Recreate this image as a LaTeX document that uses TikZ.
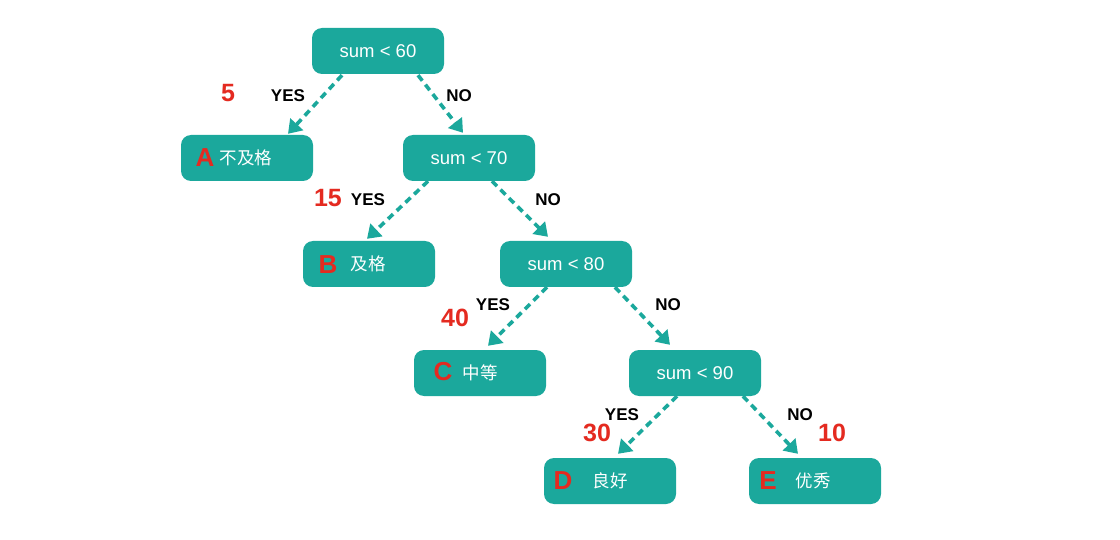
\documentclass[tikz,border=0pt]{standalone}
\usepackage{fontspec}
\setmainfont{Liberation Sans}
\newfontfamily\cjk{Noto Sans CJK SC}
\usetikzlibrary{arrows.meta,calc}
\definecolor{teal1}{HTML}{1BA89C}
\definecolor{red1}{HTML}{E42A20}
\tikzset{
  box/.style={fill=teal1, rounded corners=10pt, minimum width=132pt, minimum height=46pt, inner sep=0pt, text=white, font=\fontsize{18.5}{20}\selectfont},
  leafbox/.style={box},
  edge/.style={draw=teal1, line width=3.6pt, dash pattern=on 7pt off 5pt, -{Triangle[width=17pt,length=13pt,fill=teal1]}},
  yn/.style={font=\bfseries\fontsize{17}{18}\selectfont, text=black, inner sep=0pt},
  cnt/.style={font=\bfseries\fontsize{25}{26}\selectfont, text=red1, inner sep=0pt},
  letter/.style={font=\bfseries\fontsize{26}{27}\selectfont, text=red1, inner sep=0pt},
  cjktext/.style={text=white, font=\cjk\fontsize{17.5}{18}\selectfont, inner sep=0pt}
}
\begin{document}
\begin{tikzpicture}[x=1pt,y=-1pt]
\useasboundingbox[fill=white] (0,0) rectangle (1120,540);
% decision nodes
\node[box] (n60) at (378,51) {sum < 60};
\node[box] (n70) at (469,158) {sum < 70};
\node[box] (n80) at (566,264) {sum < 80};
\node[box] (n90) at (695,373) {sum < 90};
% leaves
\node[leafbox] (A) at (247,158) {};
\node[leafbox] (B) at (369,264) {};
\node[leafbox] (C) at (480,373) {};
\node[leafbox] (D) at (610,481) {};
\node[leafbox] (E) at (815,481) {};
% leaf texts
\node[cjktext] (At) at (246,158) {不及格};
\node[cjktext] (Bt) at (368,264) {及格};
\node[cjktext] (Ct) at (480,373) {中等};
\node[cjktext] (Dt) at (610,481) {良好};
\node[cjktext] (Et) at (813,481) {优秀};
\node[letter] (Al) at (205,158) {A};
\node[letter] (Bl) at (328,265) {B};
\node[letter] (Cl) at (443,372) {C};
\node[letter] (Dl) at (563,481) {D};
\node[letter] (El) at (768,481) {E};
% edges
\draw[edge] ($(n60.south)+(-36,1)$) -- ($(A.north)+(41,-1)$);
\draw[edge] ($(n60.south)+(40,1)$) -- ($(n70.north)+(-6,-2)$);
\draw[edge] ($(n70.south)+(-41,0)$) -- ($(B.north)+(-2,-2)$);
\draw[edge] ($(n70.south)+(23,0)$) -- ($(n80.north)+(-18,-4)$);
\draw[edge] ($(n80.south)+(-19,0)$) -- ($(C.north)+(8,-4)$);
\draw[edge] ($(n80.south)+(49,0)$) -- ($(n90.north)+(-25,-5)$);
\draw[edge] ($(n90.south)+(-18,0)$) -- ($(D.north)+(8,-4)$);
\draw[edge] ($(n90.south)+(48,0)$) -- ($(E.north)+(-17,-4)$);
% edge labels
\node[yn] (y1) at (288,96) {YES};
\node[yn] (o1) at (459,96) {NO};
\node[yn] (y2) at (368,200) {YES};
\node[yn] (o2) at (548,200) {NO};
\node[yn] (y3) at (493,305) {YES};
\node[yn] (o3) at (668,305) {NO};
\node[yn] (y4) at (622,415) {YES};
\node[yn] (o4) at (800,415) {NO};
% counts
\node[cnt] (c5) at (228,93) {5};
\node[cnt] (c15) at (328,198) {15};
\node[cnt] (c40) at (455,318) {40};
\node[cnt] (c30) at (597,433) {30};
\node[cnt] (c10) at (832,433) {10};
\end{tikzpicture}
\end{document}
